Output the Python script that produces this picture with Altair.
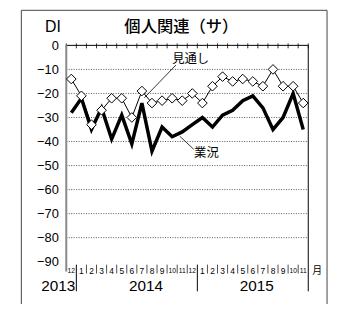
import altair as alt
import pandas as pd

# ---- data ----
months = ["12", "1", "2", "3", "4", "5", "6", "7", "8", "9", "10", "11",
          "12", "1", "2", "3", "4", "5", "6", "7", "8", "9", "10", "11"]
outlook = [-14, -21, -33, -27, -22, -22, -30, -19, -24, -23, -22, -23,
           -20, -24, -17, -13, -15, -14, -15, -17, -10, -17, -17, -24]
current = [-28, -22, -35, -26, -39, -29, -41, -24, -44, -34, -38, -36,
           -33, -30, -34, -29, -27, -23, -21, -26, -35, -30, -20, -35]
y_ticks = [0, -10, -20, -30, -40, -50, -60, -70, -80, -90]
grid_vals = [-10, -20, -30, -40, -50, -60, -70, -80]
years = ["2013", "2014", "2015"]
year_pos = [0.9, 7.9, 18.9]
year_align = ["right", "center", "center"]
year_breaks = [1, 13]

W, H = 245, 219
FONT = "Liberation Sans"
JFONT = "Noto Sans CJK JP"

n = len(months)
t = [i + 0.5 for i in range(n)]
df_cur = pd.DataFrame({"t": t, "v": current})
df_out = pd.DataFrame({"t": t, "v": outlook})

xs = alt.Scale(domain=[0, n], nice=False, zero=False)
ys = alt.Scale(domain=[-90, 0], nice=False, zero=False)
yaxis = alt.Axis(values=y_ticks, domain=False, ticks=False, grid=False,
                 labelExpr="datum.value == 0 ? '0' : '\u2212' + abs(datum.value)",
                 labelFont=FONT, labelFontSize=13, labelColor="black",
                 labelPadding=8, title=None)


def X(f="t"):
    return alt.X(f"{f}:Q", scale=xs, axis=None)


def Y(f="v"):
    return alt.Y(f"{f}:Q", scale=ys, axis=yaxis)


# gridlines
grid = alt.Chart(pd.DataFrame({"v": grid_vals, "a": [0] * 8, "b": [n] * 8})).mark_rule(
    color="#555", strokeWidth=1, strokeDash=[1, 1.5]
).encode(x=X("a"), x2="b:Q", y=Y())

# top border line + ticks
top = alt.Chart(pd.DataFrame({"a": [0], "b": [n], "v": [0]})).mark_rule(
    color="black", strokeWidth=1
).encode(x=X("a"), x2="b:Q", y=Y())
top_ticks = alt.Chart(pd.DataFrame({"t": list(range(n + 1))})).mark_rule(
    color="black", strokeWidth=0.8
).encode(x=X(), y=alt.value(-2), y2=alt.value(3))

# left axis line & right border
left_line = alt.Chart(pd.DataFrame({"t": [0]})).mark_rule(
    color="#888", strokeWidth=2
).encode(x=X(), y=alt.value(0), y2=alt.value(229))
right_line = alt.Chart(pd.DataFrame({"t": [n]})).mark_rule(
    color="black", strokeWidth=1
).encode(x=X(), y=alt.value(0), y2=alt.value(249))

# month separators
seps = [b for b in range(1, n) if b not in year_breaks]
month_sep = alt.Chart(pd.DataFrame({"t": seps})).mark_rule(
    color="black", strokeWidth=0.7
).encode(x=X(), y=alt.value(222), y2=alt.value(231))
year_sep = alt.Chart(pd.DataFrame({"t": year_breaks})).mark_rule(
    color="black", strokeWidth=1
).encode(x=X(), y=alt.value(222), y2=alt.value(249))

df_m = pd.DataFrame({"t": t, "m": months})
month_lbl1 = alt.Chart(df_m[df_m["m"].str.len() == 1]).mark_text(
    font=FONT, fontSize=8.5, color="black", baseline="middle", align="center"
).encode(x=X(), y=alt.value(228), text="m:N")
month_lbl2 = alt.Chart(df_m[df_m["m"].str.len() == 2]).mark_text(
    font=FONT, fontSize=6.8, color="black", baseline="middle", align="center"
).encode(x=X(), y=alt.value(228), text="m:N")

tsuki = alt.Chart(pd.DataFrame({"t": [n], "m": ["月"]})).mark_text(
    font=JFONT, fontSize=10, color="black", baseline="middle", align="left", dx=4
).encode(x=X(), y=alt.value(228), text="m:N")

year_layers = []
for yv, yp, al in zip(years, year_pos, year_align):
    year_layers.append(
        alt.Chart(pd.DataFrame({"t": [yp], "y": [yv]})).mark_text(
            font=FONT, fontSize=15.5, color="black", baseline="middle", align=al
        ).encode(x=X(), y=alt.value(244), text="y:N")
    )

# series
cur_line = alt.Chart(df_cur).mark_line(
    color="black", strokeWidth=3.5, strokeJoin="miter"
).encode(x=X(), y=Y())
out_line = alt.Chart(df_out).mark_line(
    color="black", strokeWidth=1
).encode(x=X(), y=Y())
out_pts = alt.Chart(df_out).mark_point(
    shape="diamond", filled=True, fill="white", stroke="black",
    strokeWidth=1, size=95, opacity=1
).encode(x=X(), y=Y())

# annotations
lead = alt.Chart(pd.DataFrame({
    "t": [10.87, 11.26], "t2": [7.74, 12.63], "v": [-8.2, -37.8], "v2": [-21.8, -43.2]
})).mark_rule(color="black", strokeWidth=0.8).encode(x=X(), x2="t2:Q", y=Y(), y2="v2:Q")
ann = alt.Chart(pd.DataFrame({
    "t": [12.34, 13.9], "v": [-5.75, -44.8], "s": ["見通し", "業況"]
})).mark_text(font=JFONT, fontSize=12.5, color="black", align="center", baseline="middle").encode(
    x=X(), y=Y(), text="s:N")

# title, DI, frame
title = alt.Chart(pd.DataFrame({"s": ["個人関連（サ）"]})).mark_text(
    font=JFONT, fontSize=16.5, fontWeight=500, color="black", align="center", baseline="middle"
).encode(x=alt.value(116.5), y=alt.value(-19), text="s:N")
di = alt.Chart(pd.DataFrame({"s": ["DI"]})).mark_text(
    font=FONT, fontSize=16, color="black", align="center", baseline="middle"
).encode(x=alt.value(-13.5), y=alt.value(-19), text="s:N")
frame = alt.Chart(pd.DataFrame({"s": [0]})).mark_rect(
    fillOpacity=0, stroke="#444", strokeWidth=1
).encode(x=alt.value(-45.5), x2=alt.value(264), y=alt.value(-35.5), y2=alt.value(300))

chart = alt.layer(
    frame, grid, top, top_ticks, left_line, right_line, month_sep, year_sep,
    month_lbl1, month_lbl2, tsuki, *year_layers, cur_line, out_line, out_pts, lead, ann, title, di
).properties(
    width=W, height=H,
    padding={"left": 59, "top": 36, "right": 22, "bottom": 41},
    autosize=alt.AutoSizeParams(type="none"),
).configure_view(stroke=None)

chart.save("out.html", embed_options={"renderer": "svg", "actions": False})
